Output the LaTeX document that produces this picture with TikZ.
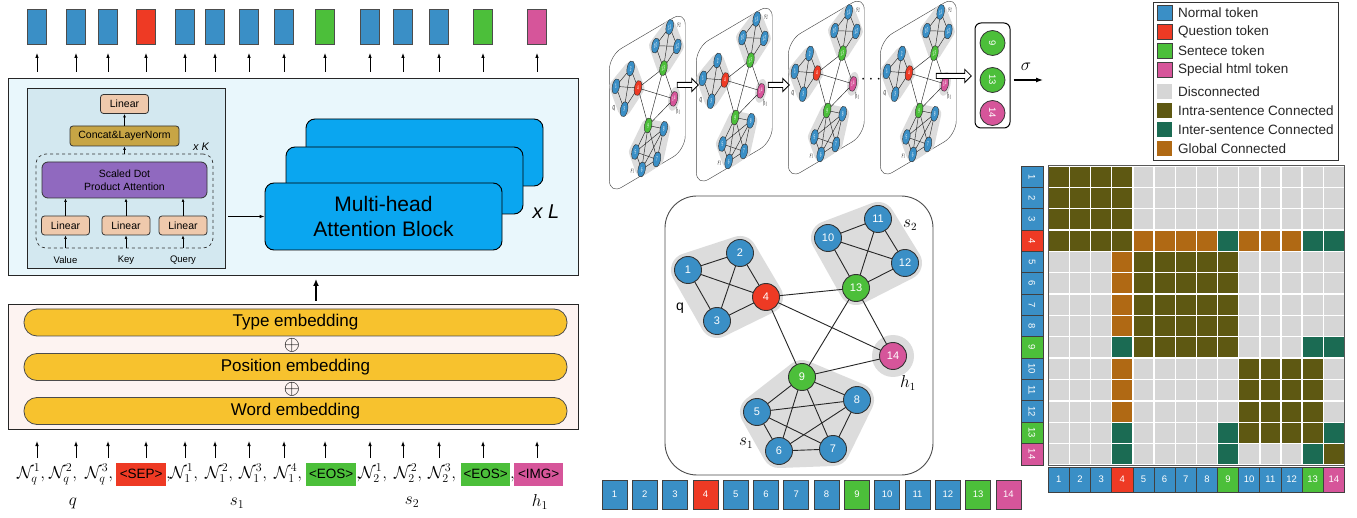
\documentclass[tikz,border=0pt]{standalone}
\usepackage{fontspec}
\setmainfont{Liberation Sans}
\usetikzlibrary{arrows.meta,shapes.arrows}
\definecolor{tblue}{HTML}{3A8FC6}
\definecolor{tred}{HTML}{EE3A24}
\definecolor{tgreen}{HTML}{4CBF3A}
\definecolor{tpink}{HTML}{D6559A}
\definecolor{cD}{HTML}{D6D6D6}
\definecolor{cI}{HTML}{5E5812}
\definecolor{cT}{HTML}{1B6B53}
\definecolor{cG}{HTML}{B06914}
\definecolor{mainbg}{HTML}{E9F7FC}
\definecolor{innerbg}{HTML}{D3E8F0}
\definecolor{peach}{HTML}{EFC9AC}
\definecolor{gold}{HTML}{C7A545}
\definecolor{purp}{HTML}{9069BF}
\definecolor{mhblue}{HTML}{0AA6F0}
\definecolor{embbg}{HTML}{FDF3F1}
\definecolor{pill}{HTML}{F7C22E}
\definecolor{blobgray}{HTML}{DCDCDC}
\newcommand{\numf}{\fontsize{9.5}{10}\selectfont}
\newcommand{\btk}[3]{\colorbox{#1}{\makebox[#2]{\rule[-8pt]{0pt}{23pt}\fontsize{13.5}{15}\selectfont #3}}}
\def\tokcol{1/tblue,2/tblue,3/tblue,4/tred,5/tblue,6/tblue,7/tblue,8/tblue,9/tgreen,10/tblue,11/tblue,12/tblue,13/tgreen,14/tpink}
% graph: #1 prefix, #2 blob width, #3 line width, #4 frame corner, #5 frame top, #6 frame bottom
\newcommand{\gph}[6]{%
\foreach \n/\xx/\yy in {1/23/74,2/75/57,3/52/125,4/101/101,5/92/216,6/114/255,7/168/253,8/192/204,9/137/181,10/163/42,11/213/23,12/240/67,13/191/92,14/228/160}{\coordinate (#1c\n) at (\xx,\yy);}
\draw[fill=white, draw=black!70, line width=#3, rounded corners=#4] (0,#5) -- (268,#5) -- (268,#6) -- (0,#6) -- cycle;
\path[fill=blobgray, draw=blobgray, line width=#2, line join=round] (#1c1) -- (#1c2) -- (#1c4) -- (#1c3) -- cycle;
\path[fill=blobgray, draw=blobgray, line width=#2, line join=round] (#1c9) -- (#1c8) -- (#1c7) -- (#1c6) -- (#1c5) -- cycle;
\path[fill=blobgray, draw=blobgray, line width=#2, line join=round] (#1c10) -- (#1c11) -- (#1c12) -- (#1c13) -- cycle;
\fill[blobgray] (#1c14) circle (21);
\foreach \a/\b in {1/2,1/3,1/4,2/3,2/4,3/4,10/11,10/12,10/13,11/12,11/13,12/13,9/5,9/6,9/7,9/8,5/8,5/6,5/7,6/7,6/8,7/8,4/13,4/9,4/14,13/9,13/14,9/14}{\draw[line width=#3, black!85] (#1c\a) -- (#1c\b);}
\foreach \n/\cc in \tokcol {\node[circle, fill=\cc, draw=black!80, line width=#3, minimum size=27pt, inner sep=0, text=white, font=\fontsize{11}{11}\selectfont] (#1n\n) at (#1c\n) {\n};}
\node[font=\fontsize{14}{14}\selectfont] (#1lq) at (15,112) {q};
\node[font=\fontsize{16}{16}\selectfont] (#1ls2) at (245,29) {$s_2$};
\node[font=\fontsize{16}{16}\selectfont] (#1lh) at (243,187) {$h_1$};
\node[font=\fontsize{16}{16}\selectfont] (#1ls1) at (81,247) {$s_1$};
}
\begin{document}
\begin{tikzpicture}[x=1pt,y=-1pt,
 arr/.style={-{Latex[length=5pt,width=3.6pt]}, line width=0.9pt},
 sarr/.style={-{Latex[length=3.5pt,width=2.8pt]}, line width=0.6pt},
 outbox/.style={draw=black!70, line width=0.9pt, minimum width=19pt, minimum height=35pt, inner sep=0},
 tok/.style={draw=black!75, line width=0.8pt, inner sep=0, text=white, font=\numf},
 lin/.style={draw=black!80, fill=peach, rounded corners=3pt, line width=0.8pt, minimum width=48pt, minimum height=19pt, inner sep=0, font=\fontsize{10.5}{12}\selectfont},
 mh/.style={draw=black, fill=mhblue, rounded corners=9pt, line width=0.9pt, minimum width=237pt, minimum height=67pt, inner sep=0},
 pillst/.style={draw=black!70, fill=pill, rounded corners=13pt, line width=0.8pt, minimum width=543pt, minimum height=27pt, inner sep=0, font=\fontsize{17}{20}\selectfont},
 dblarrow/.style={single arrow, draw=black, fill=white, line width=0.8pt, minimum width=12pt, inner sep=2.2pt, single arrow head extend=4pt},
 leg/.style={minimum width=15pt, minimum height=15pt, inner sep=0},
 legtext/.style={anchor=west, inner sep=0, font=\fontsize{13.5}{15}\selectfont, text=black!85}
]
\useasboundingbox (0,0) rectangle (1357,518);

% ---------------- left: transformer ----------------
\node[draw=black!85, fill=mainbg, line width=1pt, minimum width=570pt, minimum height=197pt, inner sep=0, anchor=north west] (main) at (8,78) {};
\node[draw=black!85, fill=embbg, line width=1pt, minimum width=570pt, minimum height=125pt, inner sep=0, anchor=north west] (emb) at (8,304) {};

\foreach \i/\x/\c in {1/37/tblue,2/76/tblue,3/108/tblue,4/146/tred,5/185/tblue,6/215/tblue,7/249/tblue,8/284/tblue,9/325/tgreen,10/370/tblue,11/403/tblue,12/439/tblue,13/483/tgreen,14/537/tpink}{
  \node[outbox, fill=\c] (o\i) at (\x,27) {};
  \draw[arr, shorten <=6pt, shorten >=8pt] (o\i.south |- main.north) -- (o\i.south);
  \coordinate (da\i) at (\x,458);
  \draw[arr, shorten >=11pt] (da\i) -- (da\i |- emb.south);
}

\node[draw=black!85, fill=innerbg, line width=1pt, minimum width=198pt, minimum height=180pt, inner sep=0, anchor=north west] (inner) at (27,88) {};
\node[lin] (lintop) at (124.5,104) {Linear};
\node[draw=black!80, fill=gold, rounded corners=3pt, line width=0.8pt, minimum width=109pt, minimum height=20pt, inner sep=0, font=\fontsize{10.5}{12}\selectfont] (concat) at (124.5,136) {Concat\&LayerNorm};
\node[draw=black!80, dashed, rounded corners=10pt, line width=0.7pt, minimum width=177pt, minimum height=94pt, inner sep=0] (dash) at (124.5,201) {};
\node[draw=black!80, fill=purp, rounded corners=6pt, line width=0.8pt, minimum width=165pt, minimum height=36pt, inner sep=0, align=center, font=\fontsize{10.5}{13}\selectfont] (sdpa) at (124.5,180) {Scaled Dot\\Product Attention};
\node[lin] (lv) at (65.5,225.5) {Linear};
\node[lin] (lk) at (126,225.5) {Linear};
\node[lin] (lq) at (183,225.5) {Linear};
\node[font=\fontsize{9.5}{10}\selectfont] (tv) at (65.5,260) {Value};
\node[font=\fontsize{9.5}{10}\selectfont] (tk) at (126,260) {Key};
\node[font=\fontsize{9.5}{10}\selectfont] (tq) at (183,260) {Query};
\node[font=\fontsize{11}{12}\selectfont\itshape] (xk) at (201,147) {x K};
\foreach \b in {lv,lk,lq}{
  \draw[sarr] (\b.south |- dash.south) -- (\b.south);
  \draw[sarr] (\b.north) -- (\b.north |- sdpa.south);
}
\draw[sarr] (dash.north) -- (concat.south);
\draw[sarr] (concat.north) -- (lintop.south);

\node[mh] (mh3) at (424.5,152.5) {};
\node[mh] (mh2) at (404.5,180.5) {};
\node[mh, align=center, font=\fontsize{21}{25}\selectfont] (mh1) at (383.5,216.5) {Multi-head\\Attention Block};
\draw[arr, shorten <=2pt] (inner.east |- mh1.west) -- (mh1.west);
\node[font=\fontsize{20}{22}\selectfont\itshape] (xl) at (546,212) {x L};

\node[pillst] (type) at (295.5,322.5) {Type embedding};
\node[pillst] (pos) at (295.5,367) {Position embedding};
\node[pillst] (word) at (295.5,411) {Word embedding};
\node[font=\fontsize{20}{20}\selectfont] (p1) at (292,345.5) {$\oplus$};
\node[font=\fontsize{20}{20}\selectfont] (p2) at (292,389) {$\oplus$};
\coordinate (thk) at (316,300);
\draw[line width=2pt, -{Latex[length=7pt,width=6pt]}, shorten <=3pt, shorten >=3pt] (thk |- emb.north) -- (thk |- main.south);

% tokens (one line of text, each token in a box of fixed width)
\node[inner sep=0, anchor=base west, font=\fontsize{16.5}{20}\selectfont] (tokens) at (17,478) {\setlength{\fboxsep}{0pt}%
\makebox[32pt][l]{$\mathcal{N}_q^1,$}%
\makebox[36pt][l]{$\mathcal{N}_q^2,$}%
\makebox[31pt][l]{$\mathcal{N}_q^3,$}%
\makebox[50pt][l]{\btk{tred}{50pt}{<SEP>}}%
\makebox[4pt][l]{$,$}%
\makebox[35pt][l]{$\mathcal{N}_1^1,$}%
\makebox[34pt][l]{$\mathcal{N}_1^2,$}%
\makebox[35pt][l]{$\mathcal{N}_1^3,$}%
\makebox[32pt][l]{$\mathcal{N}_1^4,$}%
\makebox[50pt][l]{\btk{tgreen}{50pt}{<EOS>}}%
\makebox[3pt][l]{$,$}%
\makebox[35pt][l]{$\mathcal{N}_2^1,$}%
\makebox[34pt][l]{$\mathcal{N}_2^2,$}%
\makebox[33pt][l]{$\mathcal{N}_2^3,$}%
\makebox[49pt][l]{\btk{tgreen}{49pt}{<EOS>}}%
\makebox[4pt][l]{$,$}%
\btk{tpink}{49pt}{<IMG>}};
\node[font=\fontsize{18}{20}\selectfont] (gq) at (73,503) {$q$};
\node[font=\fontsize{18}{20}\selectfont] (gs1) at (237,503) {$s_1$};
\node[font=\fontsize{18}{20}\selectfont] (gs2) at (412,502) {$s_2$};
\node[font=\fontsize{18}{20}\selectfont] (gh1) at (540,502) {$h_1$};

% ---------------- middle: graphs ----------------
\begin{scope}[shift={(609.4,50)}, cm={0.283,0.1666,0,0.543,(0,0)}, transform shape]\gph{a}{13pt}{0.45pt}{14pt}{10}{266}\end{scope}
\begin{scope}[shift={(696.4,42)}, cm={0.283,0.1666,0,0.543,(0,0)}, transform shape]\gph{b}{13pt}{0.45pt}{14pt}{10}{266}\end{scope}
\begin{scope}[shift={(788.4,35)}, cm={0.283,0.1666,0,0.543,(0,0)}, transform shape]\gph{c}{13pt}{0.45pt}{14pt}{10}{266}\end{scope}
\begin{scope}[shift={(880.4,35)}, cm={0.283,0.1666,0,0.543,(0,0)}, transform shape]\gph{d}{13pt}{0.45pt}{14pt}{10}{266}\end{scope}
\node[dblarrow, minimum height=21pt] (ar1) at (686.5,85) {};
\node[dblarrow, minimum height=21pt] (ar2) at (777.5,85) {};
\node[font=\fontsize{16}{16}\selectfont] (dots) at (871,80) {$\cdots$};
\node[dblarrow, minimum height=35pt] (ar3) at (952.5,76) {};

\node[draw=black, line width=1pt, rounded corners=6pt, minimum width=35pt, minimum height=105pt, inner sep=0] (col) at (992.5,75.5) {};
\foreach \n/\cc/\yy in {9/tgreen/43,13/tgreen/80,14/tpink/113}{
  \node[circle, fill=\cc, draw=black!80, line width=0.8pt, minimum size=25pt, inner sep=0, text=white, rotate=-90, font=\numf] (k\n) at (992.5,\yy) {\n};
}
\coordinate (sigend) at (1043,80);
\draw[line width=1.2pt, -{Latex[length=7pt,width=5pt]}, shorten <=3pt] (col.east |- sigend) -- (sigend);
\node[font=\fontsize{17}{20}\selectfont] (sig) at (1026,67) {$\sigma$};

\begin{scope}[shift={(665,196)}]\gph{m}{34pt}{0.9pt}{32pt}{0}{279}\end{scope}

\foreach \i/\c in \tokcol{
  \node[tok, fill=\c, minimum width=25pt, minimum height=29pt] (s\i) at ({614.5+30.3*(\i-1)},494.5) {\i};
}

% ---------------- right: legend & matrix ----------------
\node[draw=black!80, line width=0.8pt, minimum width=185pt, minimum height=158pt, inner sep=0] (legend) at (1245.5,81) {};
\foreach \c/\t/\yy in {tblue/Normal token/12.5,tred/Question token/32,tgreen/Sentece token/50.5,tpink/Special html token/70}{
  \node[leg, fill=\c, draw=black!75, line width=0.8pt] at (1164.5,\yy) {};
  \node[legtext] at (1178,\yy) {\t};
}
\foreach \c/\t/\yy in {cD/Disconnected/91.5,cI/Intra-sentence Connected/110.5,cT/Inter-sentence Connected/129.5,cG/Global Connected/148.5}{
  \node[leg, fill=\c] at (1164.5,\yy) {};
  \node[legtext] at (1178,\yy) {\t};
}

\foreach \row [count=\r] in {
 {I,I,I,I,D,D,D,D,D,D,D,D,D,D},
 {I,I,I,I,D,D,D,D,D,D,D,D,D,D},
 {I,I,I,I,D,D,D,D,D,D,D,D,D,D},
 {I,I,I,I,G,G,G,G,T,G,G,G,T,T},
 {D,D,D,G,I,I,I,I,I,D,D,D,D,D},
 {D,D,D,G,I,I,I,I,I,D,D,D,D,D},
 {D,D,D,G,I,I,I,I,I,D,D,D,D,D},
 {D,D,D,G,I,I,I,I,I,D,D,D,D,D},
 {D,D,D,T,I,I,I,I,I,D,D,D,T,T},
 {D,D,D,G,D,D,D,D,D,I,I,I,I,D},
 {D,D,D,G,D,D,D,D,D,I,I,I,I,D},
 {D,D,D,G,D,D,D,D,D,I,I,I,I,D},
 {D,D,D,T,D,D,D,D,T,I,I,I,I,T},
 {D,D,D,T,D,D,D,D,T,D,D,D,T,I}}{
  \foreach \v [count=\c] in \row {
    \fill[c\v] ({1048.3+(\c-1)*21.15+0.7},{166+(\r-1)*21.35+0.7}) rectangle ++(19.75,19.95);
  }
}
\draw[black!65, line width=1pt] (1048.3,166) rectangle (1344.4,465);
\foreach \i/\c in \tokcol{
  \node[tok, fill=\c, minimum width=21.35pt, minimum height=22pt, rotate=-90] (r\i) at (1032,{166+(\i-0.5)*21.35}) {\i};
  \node[tok, fill=\c, minimum width=21.15pt, minimum height=25pt] (q\i) at ({1048.3+(\i-0.5)*21.15},479.5) {\i};
}
\end{tikzpicture}
\end{document}
